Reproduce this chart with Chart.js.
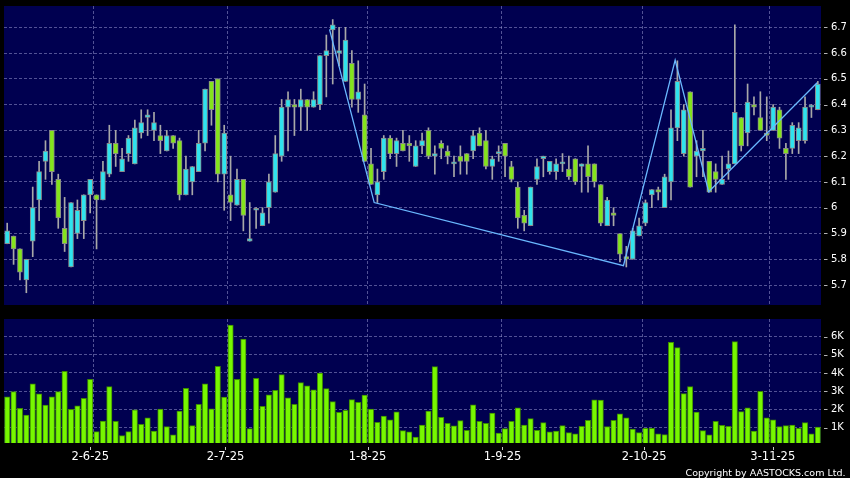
<!DOCTYPE html>
<html><head><meta charset="utf-8">
<script src="https://cdn.jsdelivr.net/npm/chart.js@4.4.1/dist/chart.umd.min.js"></script>
<style>
html,body{margin:0;padding:0;background:#000;width:850px;height:478px;overflow:hidden}
#wrapP{position:absolute;left:0;top:0;width:850px;height:310px}
#wrapV{position:absolute;left:0;top:310px;width:850px;height:168px}
canvas{display:block}
</style></head><body>
<div id="wrapP"><canvas id="price" width="850" height="310"></canvas></div>
<div id="wrapV"><canvas id="vol" width="850" height="168"></canvas></div>
<script>
// ---- data ----
const dates = [
'13-5-25','14-5-25','15-5-25','16-5-25','19-5-25','20-5-25','21-5-25','22-5-25','23-5-25','26-5-25','27-5-25','28-5-25','29-5-25','30-5-25',
'2-6-25','3-6-25','4-6-25','5-6-25','6-6-25','9-6-25','10-6-25','11-6-25','12-6-25','13-6-25','16-6-25','17-6-25','18-6-25','19-6-25','20-6-25','23-6-25','24-6-25','25-6-25','26-6-25','27-6-25','30-6-25',
'2-7-25','3-7-25','4-7-25','7-7-25','8-7-25','9-7-25','10-7-25','11-7-25','14-7-25','15-7-25','16-7-25','17-7-25','18-7-25','21-7-25','22-7-25','23-7-25','24-7-25','25-7-25','28-7-25','29-7-25','30-7-25','31-7-25',
'1-8-25','4-8-25','5-8-25','6-8-25','7-8-25','8-8-25','11-8-25','12-8-25','13-8-25','14-8-25','15-8-25','18-8-25','19-8-25','20-8-25','21-8-25','22-8-25','25-8-25','26-8-25','27-8-25','28-8-25','29-8-25',
'1-9-25','2-9-25','3-9-25','4-9-25','5-9-25','8-9-25','9-9-25','10-9-25','11-9-25','12-9-25','15-9-25','16-9-25','17-9-25','18-9-25','19-9-25','22-9-25','23-9-25','24-9-25','25-9-25','26-9-25','29-9-25','30-9-25',
'2-10-25','3-10-25','6-10-25','8-10-25','9-10-25','10-10-25','13-10-25','14-10-25','15-10-25','16-10-25','17-10-25','20-10-25','21-10-25','22-10-25','23-10-25','24-10-25','27-10-25','28-10-25','30-10-25','31-10-25',
'3-11-25','4-11-25','5-11-25','6-11-25','7-11-25','10-11-25','11-11-25','12-11-25'
];
const open = [5.86,5.89,5.84,5.72,5.87,6.03,6.18,6.30,6.11,5.92,5.77,5.90,5.95,6.05,6.05,6.03,6.13,6.25,6.14,6.21,
6.17,6.29,6.35,6.30,6.28,6.22,6.28,6.26,6.05,6.10,6.14,6.25,6.49,6.50,6.13,6.05,6.01,6.11,5.87,5.99,
5.93,6.00,6.06,6.20,6.39,6.40,6.39,6.42,6.39,6.40,6.59,6.69,6.60,6.49,6.56,6.42,6.36,6.17,6.05,6.14,
6.27,6.21,6.25,6.25,6.16,6.24,6.30,6.20,6.25,6.22,6.17,6.20,6.21,6.22,6.29,6.26,6.16,6.21,6.25,6.16,
6.08,5.97,5.93,6.11,6.19,6.14,6.14,6.17,6.15,6.19,6.16,6.17,6.17,6.09,5.93,5.98,5.90,5.81,5.80,5.89,
5.94,6.05,6.07,6.00,6.10,6.31,6.21,6.45,6.20,6.22,6.18,6.14,6.09,6.15,6.17,6.35,6.29,6.40,6.35,6.29,
6.30,6.38,6.23,6.23,6.26,6.26,6.39,6.38];
const high = [5.94,5.89,5.84,5.80,6.08,6.18,6.26,6.30,6.13,6.04,6.02,6.03,6.05,6.11,6.05,6.18,6.32,6.30,6.23,6.28,
6.34,6.38,6.38,6.37,6.32,6.30,6.28,6.27,6.20,6.16,6.30,6.46,6.49,6.50,6.32,6.20,6.15,6.11,6.02,6.00,
6.00,6.13,6.28,6.42,6.45,6.42,6.46,6.42,6.45,6.59,6.67,6.73,6.70,6.70,6.61,6.57,6.48,6.23,6.15,6.28,
6.28,6.27,6.30,6.28,6.26,6.29,6.31,6.24,6.26,6.24,6.20,6.24,6.21,6.30,6.31,6.30,6.20,6.24,6.25,6.18,
6.10,5.99,6.08,6.19,6.20,6.18,6.19,6.21,6.20,6.19,6.17,6.24,6.17,6.09,6.04,6.00,5.90,5.85,5.92,5.96,
6.03,6.07,6.08,6.13,6.38,6.57,6.40,6.45,6.26,6.30,6.18,6.17,6.20,6.22,6.71,6.35,6.48,6.43,6.45,6.43,
6.40,6.39,6.25,6.33,6.33,6.43,6.40,6.49];
const low = [5.86,5.78,5.72,5.67,5.81,5.95,6.11,6.09,5.92,5.83,5.77,5.88,5.88,5.98,5.84,6.03,6.12,6.16,6.14,6.18,
6.17,6.27,6.28,6.26,6.21,6.22,6.23,6.03,6.05,6.05,6.14,6.22,6.32,6.10,5.99,5.95,6.01,5.91,5.87,5.92,
5.93,5.94,6.06,6.18,6.22,6.28,6.30,6.30,6.39,6.38,6.43,6.48,6.55,6.49,6.39,6.37,6.18,6.09,6.02,6.11,
6.19,6.16,6.22,6.18,6.16,6.21,6.19,6.13,6.19,6.17,6.12,6.13,6.13,6.19,6.24,6.15,6.11,6.18,6.12,6.10,
5.92,5.91,5.93,6.09,6.12,6.13,6.11,6.14,6.11,6.09,6.06,6.06,6.08,5.93,5.93,5.93,5.79,5.77,5.80,5.89,
5.93,6.00,6.03,6.00,6.03,6.26,6.20,6.08,6.12,6.12,6.06,6.06,6.09,6.11,6.17,6.22,6.24,6.36,6.30,6.26,
6.30,6.23,6.11,6.21,6.21,6.25,6.35,6.38];
const close = [5.91,5.84,5.75,5.80,6.00,6.14,6.22,6.14,5.96,5.86,6.02,5.99,6.05,6.11,6.03,6.14,6.25,6.21,6.19,6.27,
6.31,6.33,6.36,6.33,6.26,6.28,6.25,6.05,6.15,6.16,6.25,6.46,6.38,6.13,6.29,6.02,6.11,5.97,5.88,5.99,
5.98,6.10,6.21,6.39,6.42,6.39,6.42,6.39,6.42,6.59,6.61,6.71,6.61,6.65,6.42,6.45,6.18,6.09,6.10,6.27,
6.21,6.26,6.22,6.24,6.24,6.26,6.20,6.21,6.23,6.20,6.17,6.18,6.18,6.28,6.24,6.16,6.19,6.21,6.20,6.11,
5.96,5.94,6.08,6.16,6.20,6.18,6.17,6.17,6.12,6.10,6.17,6.12,6.10,5.94,6.03,5.97,5.82,5.80,5.91,5.93,
6.02,6.07,6.06,6.12,6.31,6.49,6.38,6.08,6.22,6.23,6.06,6.11,6.11,6.17,6.37,6.24,6.41,6.39,6.30,6.28,
6.39,6.27,6.21,6.32,6.31,6.39,6.39,6.48];
// volume in thousands of shares
const volume = [2.69,2.98,2.05,1.69,3.40,2.85,2.23,2.69,2.98,4.09,2.00,2.19,2.60,3.65,0.78,1.36,3.25,1.34,0.56,0.78,
1.97,1.18,1.54,0.80,2.01,1.05,0.60,1.91,3.16,1.11,2.27,3.40,2.03,4.36,2.67,6.64,3.65,5.87,0.94,3.71,
2.16,2.80,3.05,3.91,2.63,2.28,3.47,3.29,3.07,4.00,3.14,2.43,1.83,1.94,2.54,2.38,2.78,2.01,1.29,1.63,
1.42,1.87,0.83,0.76,0.47,1.14,1.91,4.35,1.56,1.23,1.09,1.38,0.85,2.25,1.34,1.23,1.80,0.69,0.94,1.34,
2.09,1.14,1.49,0.85,1.27,0.76,0.81,1.11,0.72,0.65,1.07,1.40,2.53,2.51,1.05,1.40,1.76,1.54,0.92,0.72,
0.96,0.96,0.65,0.61,5.69,5.40,2.87,3.25,1.85,0.83,0.60,1.34,1.12,1.07,5.73,1.88,2.09,0.81,2.99,1.54,
1.43,1.05,1.11,1.14,0.96,1.27,0.65,1.03];
// zigzag swing line (x in trading-day positions, y in price)
const zigX = [50.5, 57.5, 96.55, 104.65, 109.9, 126.9];
const zigY = [6.692, 6.02, 5.775, 6.573, 6.062, 6.485];
const priceTicks = [5.7,5.8,5.9,6.0,6.1,6.2,6.3,6.4,6.5,6.6,6.7];
const volTicks = [1,2,3,4,5,6];
const tickLabels = ['2-6-25','2-7-25','1-8-25','1-9-25','2-10-25','3-11-25'];

// ---- styling / layout ----
const N = dates.length;
const idx = dates.map((d,i)=>i);
const monthStart = tickLabels.map(l=>dates.indexOf(l));
const labelAt = [13.0, 34.2, 56.45, 77.6, 99.8, 119.95];
const UP='#2fe3ee', DN='#84e41c', EDGE='#8a8a8a', WICK='#a8a8a8';
const NAVY='#000050', GRID='rgba(150,150,205,0.55)';
const FONT='"DejaVu Sans", Verdana, sans-serif';
Chart.defaults.font.family = FONT;
Chart.defaults.color = '#ffffff';

const bg = {id:'bg', beforeDraw(ch){const {ctx,chartArea:a}=ch; ctx.save(); ctx.fillStyle=NAVY; ctx.fillRect(a.left,a.top,a.width,a.height); ctx.restore();}};
const yDash = {id:'yDash', afterDraw(ch){const s=ch.scales.y, a=ch.chartArea, ctx=ch.ctx; ctx.save(); ctx.strokeStyle='#b4b4b4'; ctx.lineWidth=1;
  s.ticks.forEach(t=>{const y=Math.round(s.getPixelForValue(t.value))+0.5; ctx.beginPath(); ctx.moveTo(a.right+3,y); ctx.lineTo(a.right+6.5,y); ctx.stroke();}); ctx.restore();}};

function gridX(){
  return {type:'linear', position:'bottom', min:-0.5, max:N-0.5, offset:false, bounds:'ticks',
    afterBuildTicks(s){ s.ticks = monthStart.map(i=>({value:i-0.5})); },
    ticks:{display:false},
    grid:{color:GRID, lineWidth:1, drawTicks:false, offset:false},
    border:{display:false, dash:[3,2]},
    afterFit(s){ s.height=0; s.paddingLeft=0; s.paddingRight=0; }};
}
function yAxis(min,max,ticks,fmt){
  return {type:'linear', position:'right', min, max,
    afterBuildTicks(s){ s.ticks = ticks.map(v=>({value:v})); },
    ticks:{callback:fmt, color:'#ffffff', font:{size:10}, padding:10},
    grid:{color:GRID, lineWidth:1, drawTicks:false},
    border:{display:false, dash:[3,2]},
    afterFit(s){ s.width=29; s.paddingTop=0; s.paddingBottom=0; }};
}

new Chart(document.getElementById('price'), {
  type:'bar',
  data:{datasets:[
    {type:'bar', data: idx.map(i=>({x:i, y:[low[i],high[i]]})), backgroundColor:WICK, barThickness:1, grouped:false, order:3},
    {type:'bar', data: idx.map(i=>({x:i, y:[open[i],close[i]]})), backgroundColor: idx.map(i=>close[i]>=open[i]?UP:DN),
      borderColor:EDGE, borderWidth:1, borderSkipped:false, barThickness:5, minBarLength:2, grouped:false, order:2},
    {type:'line', data: zigX.map((x,k)=>({x, y:zigY[k]})), borderColor:'#6ab8ff', borderWidth:1.3, pointRadius:0, tension:0, order:1}
  ]},
  options:{responsive:false, animation:false, events:[],
    layout:{padding:{left:4, top:6, right:0, bottom:5}},
    plugins:{legend:{display:false}, tooltip:{enabled:false}},
    scales:{ x: gridX(), y: yAxis(5.6224, 6.7827, priceTicks, v=>String(Number(v.toFixed(1)))) }
  },
  plugins:[bg, yDash]
});

const xMarks = {id:'xMarks', afterDraw(ch){const s=ch.scales.xl, ctx=ch.ctx; ctx.save(); ctx.strokeStyle='#c8c8c8'; ctx.lineWidth=1;
  s.ticks.forEach(t=>{const x=Math.round(s.getPixelForValue(t.value))+0.5; ctx.beginPath(); ctx.moveTo(x,ch.chartArea.bottom+4); ctx.lineTo(x,ch.chartArea.bottom+7); ctx.stroke();});
  ctx.fillStyle='#ffffff'; ctx.font='9.5px '+FONT; ctx.textAlign='right'; ctx.textBaseline='alphabetic';
  ctx.fillText('Copyright by AASTOCKS.com Ltd.', 845.5, 165.5); ctx.restore();}};

new Chart(document.getElementById('vol'), {
  type:'bar',
  data:{datasets:[
    {type:'bar', data: idx.map(i=>({x:i, y:volume[i]})), backgroundColor:'#77f700', borderColor:'#3d8a00', borderWidth:1, borderSkipped:false, barThickness:5.4, xAxisID:'x'}
  ]},
  options:{responsive:false, animation:false, events:[],
    layout:{padding:{left:4, top:9, right:0, bottom:0}},
    plugins:{legend:{display:false}, tooltip:{enabled:false}},
    scales:{
      x: gridX(),
      xl:{type:'linear', position:'bottom', min:-0.5, max:N-0.5, offset:false,
        afterBuildTicks(s){ s.ticks = labelAt.map(v=>({value:v})); },
        ticks:{callback:(v,i)=>tickLabels[i], color:'#ffffff', font:{size:11.5}, padding:7, maxRotation:0, autoSkip:false},
        grid:{display:false, drawTicks:false, offset:false}, border:{display:false},
        afterFit(s){ s.height=35; s.paddingLeft=0; s.paddingRight=0; }},
      y: yAxis(0.15, 6.97, volTicks, v=>v+'K')
    }
  },
  plugins:[bg, yDash, xMarks]
});
</script>
</body></html>
